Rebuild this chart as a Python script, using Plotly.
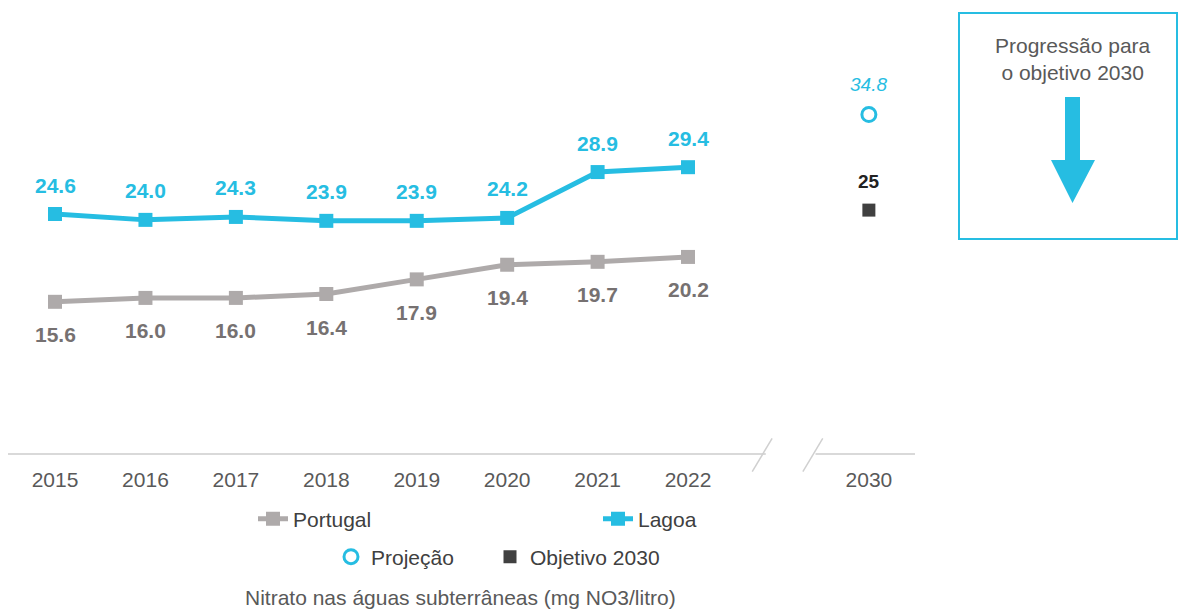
import plotly.graph_objects as go

# ---------------- data ----------------
years = ["2015", "2016", "2017", "2018", "2019", "2020", "2021", "2022"]
portugal = [15.6, 16.0, 16.0, 16.4, 17.9, 19.4, 19.7, 20.2]
lagoa = [24.6, 24.0, 24.3, 23.9, 23.9, 24.2, 28.9, 29.4]
target_year = "2030"
projecao_2030 = [34.8]
objetivo_2030 = [25]
tick_labels = years + [target_year]
chart_title = "Nitrato nas águas subterrâneas (mg NO3/litro)"
box_text = "Progressão para<br>o objetivo 2030"

# ---------------- style ----------------
CYAN = "#26BDE2"
GRAY_LINE = "#AEAAAA"
GRAY_LABEL = "#767171"
DARK = "#404040"
TXT = "#595959"
FONT = "Liberation Sans, Arial, sans-serif"
FS = 21

W, H = 1179, 611
ML, MR, MT, MB = 8, 264, 15, 157
PW, PH = W - ML - MR, H - MT - MB
X_LO, X_HI = -0.52, 9.51
Y_LO, Y_HI = 0, 45

def px_x(p):
    return (p - ML) / PW

def px_y(p):
    return (H - MB - p) / PH

def dx(v):  # data x -> paper (for decorative axis break marks)
    return (v - X_LO) / (X_HI - X_LO)

def dy(v):  # data y -> paper
    return (v - Y_LO) / (Y_HI - Y_LO)

# x positions: years consecutive, target year after a one-slot gap
x_years = list(range(len(years)))
x_target = [len(years) + 1]

fig = go.Figure()

fig.add_trace(go.Scatter(
    x=x_years, y=portugal, name="Portugal", mode="lines+markers",
    line=dict(color=GRAY_LINE, width=5),
    marker=dict(symbol="square", size=14, color=GRAY_LINE),
    legend="legend",
))
fig.add_trace(go.Scatter(
    x=x_years, y=lagoa, name="Lagoa", mode="lines+markers",
    line=dict(color=CYAN, width=5),
    marker=dict(symbol="square", size=14, color=CYAN),
    legend="legend2",
))
fig.add_trace(go.Scatter(
    x=x_target, y=projecao_2030, name="Projeção", mode="markers",
    marker=dict(symbol="circle-open", size=14, color=CYAN, line=dict(width=3, color=CYAN)),
    legend="legend3",
))
fig.add_trace(go.Scatter(
    x=x_target, y=objetivo_2030, name="Objetivo 2030", mode="markers",
    marker=dict(symbol="square", size=13, color=DARK),
    legend="legend4",
))

annotations = []
for xv, v in zip(x_years, lagoa):
    annotations.append(dict(x=xv, y=v, xref="x", yref="y", text=f"<b>{v:.1f}</b>",
                            showarrow=False, yshift=29, xanchor="center", yanchor="middle",
                            font=dict(family=FONT, size=FS, color=CYAN)))
for xv, v in zip(x_years, portugal):
    annotations.append(dict(x=xv, y=v, xref="x", yref="y", text=f"<b>{v:.1f}</b>",
                            showarrow=False, yshift=-33, xanchor="center", yanchor="middle",
                            font=dict(family=FONT, size=FS, color=GRAY_LABEL)))
annotations.append(dict(x=x_target[0], y=projecao_2030[0], xref="x", yref="y",
                        text=f"<i>{projecao_2030[0]:.1f}</i>", showarrow=False, yshift=30,
                        xanchor="center", yanchor="middle",
                        font=dict(family=FONT, size=19, color=CYAN)))
annotations.append(dict(x=x_target[0], y=objetivo_2030[0], xref="x", yref="y",
                        text=f"<b>{objetivo_2030[0]}</b>", showarrow=False, yshift=29,
                        xanchor="center", yanchor="middle",
                        font=dict(family=FONT, size=19, color="#222222")))
annotations.append(dict(x=px_x(460), y=px_y(597), xref="paper", yref="paper",
                        text=chart_title, showarrow=False, xanchor="center", yanchor="middle",
                        font=dict(family=FONT, size=FS, color=TXT)))
annotations.append(dict(x=px_x(1073), y=px_y(59), xref="paper", yref="paper",
                        text=box_text, showarrow=False, xanchor="center", yanchor="middle",
                        font=dict(family=FONT, size=FS, color=TXT)))

# axis line with break marks
shapes = [
    dict(type="line", xref="paper", yref="paper", x0=0, x1=dx(7.86), y0=dy(0), y1=dy(0),
         line=dict(color="#D9D9D9", width=2)),
    dict(type="line", xref="paper", yref="paper", x0=dx(8.41), x1=1, y0=dy(0), y1=dy(0),
         line=dict(color="#D9D9D9", width=2)),
    dict(type="line", xref="paper", yref="paper", x0=dx(7.71), x1=dx(7.93), y0=dy(-1.8), y1=dy(1.6),
         line=dict(color="#D0D0D0", width=1.5)),
    dict(type="line", xref="paper", yref="paper", x0=dx(8.27), x1=dx(8.49), y0=dy(-1.8), y1=dy(1.6),
         line=dict(color="#D0D0D0", width=1.5)),
    # box on the right
    dict(type="rect", xref="paper", yref="paper",
         x0=px_x(959), x1=px_x(1177), y0=px_y(239), y1=px_y(13),
         line=dict(color=CYAN, width=2), fillcolor="rgba(0,0,0,0)"),
    # down arrow
    dict(type="path", xref="paper", yref="paper",
         path=(f"M {px_x(1065)} {px_y(97)} L {px_x(1080)} {px_y(97)} "
               f"L {px_x(1080)} {px_y(160)} L {px_x(1095)} {px_y(160)} "
               f"L {px_x(1072.5)} {px_y(203)} L {px_x(1051)} {px_y(160)} "
               f"L {px_x(1065)} {px_y(160)} Z"),
         line=dict(width=0), fillcolor=CYAN),
]

def leg(xp, yp):
    return dict(orientation="h", x=px_x(xp), xanchor="left", y=px_y(yp), yanchor="middle",
                font=dict(family=FONT, size=FS, color=DARK), bgcolor="rgba(0,0,0,0)")

fig.update_layout(
    width=W, height=H,
    margin=dict(l=ML, r=MR, t=MT, b=MB),
    plot_bgcolor="white", paper_bgcolor="white",
    font=dict(family=FONT, size=FS, color=TXT),
    xaxis=dict(range=[X_LO, X_HI], tickvals=x_years + x_target, ticktext=tick_labels,
               showgrid=False, zeroline=False, showline=False,
               ticks="outside", ticklen=7, tickcolor="rgba(0,0,0,0)",
               tickfont=dict(family=FONT, size=FS, color=TXT), fixedrange=True),
    yaxis=dict(range=[Y_LO, Y_HI], visible=False, fixedrange=True),
    showlegend=True,
    legend=leg(253, 519),
    legend2=leg(598, 519),
    legend3=leg(331, 557),
    legend4=leg(490, 557),
    annotations=annotations,
    shapes=shapes,
)

fig.write_html("out.html", config={"displayModeBar": False},
               post_script="document.body.style.margin='0px';")
